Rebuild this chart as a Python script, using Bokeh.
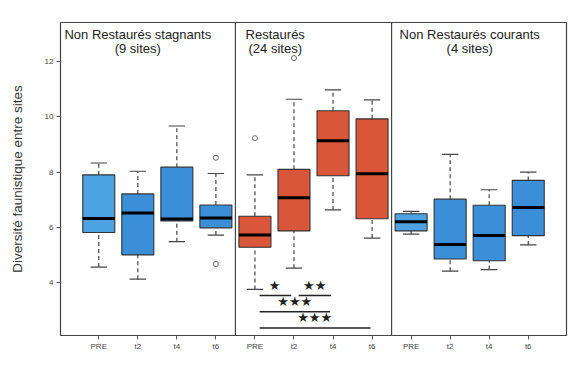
import numpy as np
from bokeh.plotting import figure
from bokeh.models import Span, Label, FixedTicker, ColumnDataSource
from bokeh.core.properties import value
from bokeh.embed import file_html
from bokeh.resources import INLINE

# ---- data ----
tick_labels = ["PRE", "t2", "t4", "t6", "PRE", "t2", "t4", "t6", "PRE", "t2", "t4", "t6"]
lower  = [4.56, 4.12, 5.48, 5.72, 3.75, 4.52, 6.63, 5.61, 5.75, 4.41, 4.47, 5.36]
q1     = [5.81, 5.00, 6.23, 5.98, 5.28, 5.87, 7.87, 6.31, 5.87, 4.85, 4.79, 5.70]
median = [6.32, 6.52, 6.30, 6.34, 5.72, 7.07, 9.14, 7.94, 6.20, 5.38, 5.70, 6.72]
q3     = [7.90, 7.21, 8.18, 6.81, 6.40, 8.10, 10.22, 9.93, 6.49, 7.02, 6.80, 7.70]
upper  = [8.33, 8.03, 9.67, 7.95, 7.90, 10.64, 10.98, 10.62, 6.58, 8.64, 7.36, 8.00]
outlier_box = [4, 4, 5, 6]
outlier_val = [8.52, 4.67, 9.23, 12.13]

group_titles = ["Non Restaurés stagnants", "Restaurés", "Non Restaurés courants"]
group_sites = ["(9 sites)", "(24 sites)", "(4 sites)"]
group_title_x = [2.0, 5.52, 10.5]
group_bounds = [4.5, 8.5]

sig_x0 = [5.12, 6.12, 5.12, 5.12]
sig_x1 = [5.93, 6.95, 6.92, 7.96]
sig_y = [3.53, 3.53, 2.94, 2.35]
sig_text = ["★", "★★", "★★★", "★★★"]
sig_tx = [5.50, 6.53, 6.02, 6.53]
sig_ty = [3.62, 3.62, 3.03, 2.45]

BLUE_L = "#4da2e2"
BLUE = "#3b8fd8"
RED = "#d9563a"
colors = [BLUE_L, BLUE, BLUE, BLUE, RED, RED, RED, RED, BLUE_L, BLUE, BLUE, BLUE]

x = np.arange(1, len(tick_labels) + 1)
box_w = 0.82
cap_w = 0.42

p = figure(width=568, height=353, x_range=(0.02, 12.98), y_range=(2.08, 13.42),
           output_backend="svg", toolbar_location=None,
           min_border_left=60, min_border_right=2, min_border_top=22, min_border_bottom=16)
p.background_fill_color = "white"
p.border_fill_color = "white"
p.outline_line_color = "#444444"
p.outline_line_width = 1.2
p.xgrid.visible = False
p.ygrid.visible = False

src = ColumnDataSource(dict(x=x, lower=lower, q1=q1, median=median, q3=q3, upper=upper,
                            color=colors,
                            cl=x - cap_w / 2, cr=x + cap_w / 2,
                            bl=x - box_w / 2, br=x + box_w / 2))

# whiskers
p.segment(x0="x", y0="q3", x1="x", y1="upper", source=src, line_color="#444444",
          line_width=1.2, line_dash="4 3")
p.segment(x0="x", y0="lower", x1="x", y1="q1", source=src, line_color="#444444",
          line_width=1.2, line_dash="4 3")
p.segment(x0="cl", y0="upper", x1="cr", y1="upper", source=src, line_color="#444444", line_width=1.2)
p.segment(x0="cl", y0="lower", x1="cr", y1="lower", source=src, line_color="#444444", line_width=1.2)
# boxes
p.vbar(x="x", width=box_w, bottom="q1", top="q3", source=src, fill_color="color",
       line_color="#333333", line_width=1.1)
p.segment(x0="bl", y0="median", x1="br", y1="median", source=src, line_color="black", line_width=3)

# outliers
p.scatter(x=outlier_box, y=outlier_val, marker="circle", size=5, fill_color=None,
          line_color="#666666", line_width=1)

# group dividers
for b in group_bounds:
    p.add_layout(Span(location=b, dimension="height", line_color="#444444", line_width=1.2))

# group titles
for t, s, tx in zip(group_titles, group_sites, group_title_x):
    p.add_layout(Label(x=tx, y=13.24, text=t, text_align="center", text_baseline="top",
                       text_font="Liberation Sans", text_font_size="13px", text_color="#222222"))
    p.add_layout(Label(x=tx, y=12.74, text=s, text_align="center", text_baseline="top",
                       text_font="Liberation Sans", text_font_size="13px", text_color="#222222"))

# significance
p.segment(x0=sig_x0, y0=sig_y, x1=sig_x1, y1=sig_y, line_color="#222222", line_width=1.6)
p.text(x=sig_tx, y=sig_ty, text=sig_text, text_align="center", text_baseline="bottom",
       text_font=value("DejaVu Sans"), text_font_size="13px", text_color="#222222")

# axes
p.yaxis.ticker = FixedTicker(ticks=[4, 6, 8, 10, 12])
p.yaxis.axis_line_color = None
p.yaxis.major_tick_in = 0
p.yaxis.major_tick_out = 4
p.yaxis.minor_tick_line_color = None
p.yaxis.major_tick_line_color = "#555555"
p.yaxis.major_label_text_font = "Liberation Sans"
p.yaxis.major_label_text_font_size = "8px"
p.yaxis.major_label_text_color = "#444444"
p.yaxis.major_label_standoff = 3
p.yaxis.axis_label = "Diversité faunistique entre sites"
p.yaxis.axis_label_text_font = "Liberation Sans"
p.yaxis.axis_label_text_font_size = "13.5px"
p.yaxis.axis_label_text_font_style = "normal"
p.yaxis.axis_label_text_color = "#333333"
p.yaxis.axis_label_standoff = 17

p.xaxis.ticker = FixedTicker(ticks=list(x))
p.xaxis.major_label_overrides = {int(i): lab for i, lab in zip(x, tick_labels)}
p.xaxis.axis_line_color = None
p.xaxis.major_tick_in = 0
p.xaxis.major_tick_out = 4
p.xaxis.minor_tick_line_color = None
p.xaxis.major_tick_line_color = "#555555"
p.xaxis.major_label_text_font = "Liberation Sans"
p.xaxis.major_label_text_font_size = "8px"
p.xaxis.major_label_text_color = "#444444"
p.xaxis.major_label_standoff = 2

open("out.html", "w").write(file_html(p, INLINE))
